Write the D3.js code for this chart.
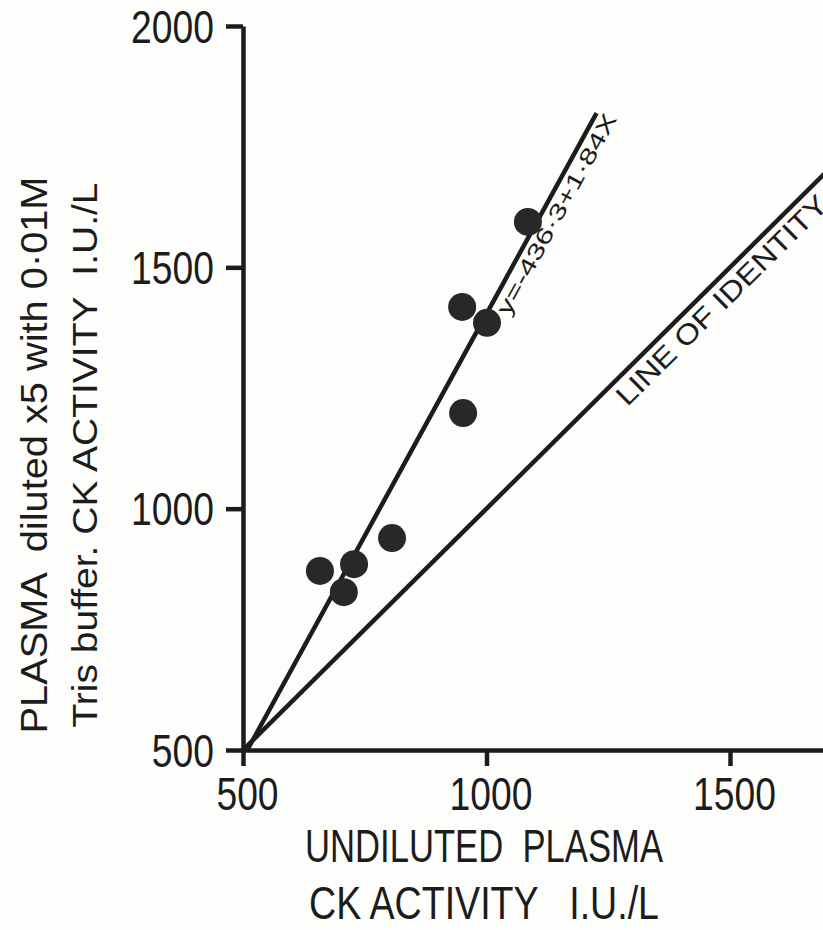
<!DOCTYPE html>
<html><head><meta charset="utf-8">
<script src="https://cdn.jsdelivr.net/npm/d3@7"></script>
<style>
html,body{margin:0;padding:0;background:#fdfdfb;}
svg{display:block;}
text{font-family:"Liberation Sans",Arial,sans-serif;fill:#1c1c1c;white-space:pre;}
</style></head><body>
<svg id="chart" width="823" height="930"></svg>
<script>
// Undiluted plasma CK activity (I.U./L)
const undiluted = [1085, 950, 1001, 952, 806, 658, 728, 707];
// Same samples diluted x5 with 0.01M Tris buffer (I.U./L)
const diluted = [1594, 1418, 1385, 1198, 939, 871, 885, 827];
const xTicks = [500, 1000, 1500];
const yTicks = [500, 1000, 1500, 2000];
// Regression line y = -436.3 + 1.84x
const fitIntercept = -436.3;
const fitSlope = 1.84;
const fitEnd = 1226;
const identityEnd = 1700;

const W = 823, H = 930;
const ink = "#1c1c1c";
const svg = d3.select("#chart");

const x = d3.scaleLinear().domain([500, 1500]).range([243, 730]);
const y = d3.scaleLinear().domain([500, 2000]).range([750, 26]);
const xAxisScale = x.copy().domain([500, x.invert(W)]).range([243, W]);

const fit = v => fitIntercept + fitSlope * v;
const fmt = d3.format("d");

// axes
const gx = svg.append("g").attr("transform", `translate(0,${y(500)})`)
  .call(d3.axisBottom(xAxisScale).tickValues(xTicks).tickFormat(fmt).tickSize(16).tickSizeOuter(0));
const gy = svg.append("g").attr("transform", `translate(${x(500)},0)`)
  .call(d3.axisLeft(y).tickValues(yTicks).tickFormat(fmt).tickSize(17).tickSizeOuter(0));

[gx, gy].forEach(g => {
  g.select(".domain").attr("stroke", ink).attr("stroke-width", 4.5);
  g.selectAll(".tick line").attr("stroke", ink).attr("stroke-width", 4.5);
  g.selectAll(".tick text").attr("font-size", 46).attr("fill", ink)
    .attr("font-family", '"Liberation Sans",Arial,sans-serif');
});
gx.selectAll(".tick text").attr("y", 60).attr("dy", 0).attr("dx", 4);
gy.selectAll(".tick text").attr("x", -29).attr("dy", "0.35em");
// narrow lettering for the tick numbers
svg.selectAll(".tick text").each(function () {
  const w = this.getComputedTextLength();
  d3.select(this).attr("textLength", w * 0.81).attr("lengthAdjust", "spacingAndGlyphs");
});

// lines
const line = d3.line().x(d => x(d[0])).y(d => y(d[1]));
const fitStart = (500 - fitIntercept) / fitSlope;
svg.append("path")
  .attr("d", line([[fitStart, fit(fitStart)], [fitEnd, fit(fitEnd)]]))
  .attr("stroke", ink).attr("stroke-width", 4.5).attr("fill", "none");
svg.append("path")
  .attr("d", line([[500, 500], [identityEnd, identityEnd]]))
  .attr("stroke", ink).attr("stroke-width", 4.5).attr("fill", "none");

// points
svg.append("g").selectAll("circle")
  .data(undiluted.map((u, i) => [u, diluted[i]]))
  .join("circle")
  .attr("cx", d => x(d[0])).attr("cy", d => y(d[1]))
  .attr("r", 14).attr("fill", "#282828");

// labels set along the lines, on their lower-right side
function alongLabel(text, f, v, offset, size, len) {
  const dx = x(v + 100) - x(v), dy = y(f(v + 100)) - y(f(v));
  const L = Math.hypot(dx, dy);
  const ux = dx / L, uy = dy / L;
  const nx = -uy, ny = ux;
  const px = x(v) + nx * offset, py = y(f(v)) + ny * offset;
  const ang = Math.atan2(dy, dx) * 180 / Math.PI;
  svg.append("text")
    .attr("transform", `translate(${px},${py}) rotate(${ang})`)
    .attr("font-size", size)
    .attr("textLength", len).attr("lengthAdjust", "spacingAndGlyphs")
    .text(text);
}
alongLabel("y=-436·3+1·84X", fit, 1008, 21, 22, 226);
alongLabel("LINE OF IDENTITY", v => v, 1250, 27, 28, 285);

// axis titles
const xTitle = [["UNDILUTED  PLASMA", 862, 358], ["CK ACTIVITY   I.U./L", 919, 350]];
xTitle.forEach(([t, yy, len]) => {
  svg.append("text").attr("x", 484).attr("y", yy)
    .attr("text-anchor", "middle").attr("font-size", 46)
    .attr("textLength", len).attr("lengthAdjust", "spacingAndGlyphs")
    .text(t);
});
const yTitle = [["PLASMA  diluted x5 with 0·01M", 47, 37, 557], ["Tris buffer. CK ACTIVITY  I.U./L", 97, 35, 545]];
yTitle.forEach(([t, xx, size, len]) => {
  svg.append("text").attr("transform", `translate(${xx},455) rotate(-90)`)
    .attr("text-anchor", "middle").attr("font-size", size)
    .attr("textLength", len).attr("lengthAdjust", "spacingAndGlyphs")
    .text(t);
});
</script>
</body></html>
